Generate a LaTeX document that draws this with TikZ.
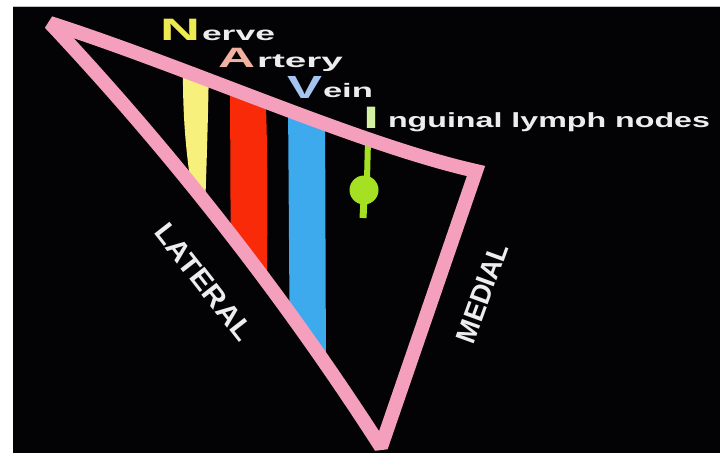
\documentclass[tikz,border=0pt]{standalone}
\usepackage{fontspec}
\setmainfont{Liberation Sans}
\usepackage{graphicx}
\definecolor{bgblack}{HTML}{030205}
\definecolor{bandpink}{HTML}{F4A0BC}
\definecolor{nervecol}{HTML}{F8F07C}
\definecolor{arterycol}{HTML}{F82A08}
\definecolor{veincol}{HTML}{3EAAEE}
\definecolor{lymphcol}{HTML}{A6E022}
\definecolor{Ncol}{HTML}{EEEA52}
\definecolor{Acol}{HTML}{F2B2A2}
\definecolor{Vcol}{HTML}{A6C4F0}
\definecolor{Icol}{HTML}{D4F0A4}
\definecolor{txtcol}{HTML}{EDEDED}
\newcommand\stretchtxt[3]{\resizebox{#1pt}{\height}{\fontsize{#2}{#2}\selectfont\bfseries #3}}
\tikzset{
  band/.style={draw=bandpink, line width=14pt, line join=miter, miter limit=1.8},
  lbl/.style={anchor=base west, inner sep=0pt, outer sep=0pt},
  sidelbl/.style={inner sep=0pt, text=txtcol}
}
\begin{document}
\begin{tikzpicture}[x=1pt,y=-1pt]
\useasboundingbox (0,0) rectangle (720,453);
\fill[white] (0,0) rectangle (720,453);
\fill[bgblack] (13,6) rectangle (720,453);
\draw[gray!50, line width=0.8pt] (13,6.4) -- (720,6.4);
\def\tripath{(50,23) .. controls (190,68) and (360,145) .. (476,171) -- (381,447) .. controls (284,296) and (173,154) .. cycle}
\begin{scope}
  \clip \tripath;
  % nerve
  \fill[nervecol] (183,60) -- (209,60) .. controls (208,130) and (206,180) .. (204,240) -- (200,240) .. controls (190,180) and (182,140) .. (183,60) -- cycle;
  % artery
  \fill[arterycol] (230,80) -- (265,80) .. controls (268,150) and (268,220) .. (266,320) -- (231,320) -- cycle;
  % vein
  \fill[veincol] (288,100) -- (325,100) -- (326,380) -- (290,380) -- cycle;
  % lymph node
  \draw[lymphcol, line width=6pt] (368,140) -- (367,180);
  \fill[lymphcol] (364,190) circle (14.5);
  \draw[lymphcol, line width=7pt] (364,200) -- (363,218);
\end{scope}
\draw[band] \tripath;
% acronym text
\node[lbl, text=Ncol] (N) at (160,40) {\stretchtxt{40}{31}{N}};
\node[lbl, text=txtcol] (erve) at (202,40) {\stretchtxt{73}{19.5}{erve}};
\node[lbl, text=Acol] (A) at (218,67) {\stretchtxt{37}{28}{A}};
\node[lbl, text=txtcol] (rtery) at (257,67) {\stretchtxt{86}{19.5}{rtery}};
\node[lbl, text=Vcol] (V) at (287,98) {\stretchtxt{35}{32}{V}};
\node[lbl, text=txtcol] (ein) at (323,97) {\stretchtxt{50}{19.5}{ein}};
\node[lbl, text=Icol] (I) at (363,128) {\stretchtxt{16}{31}{I}};
\node[lbl, text=txtcol] (ingu) at (388,127) {\stretchtxt{322}{20.5}{nguinal lymph nodes}};
% side labels
\node[sidelbl, rotate=-52] (lateral) at (204,282) {\stretchtxt{140}{28}{LATERAL}};
\node[sidelbl, rotate=70] (medial) at (482,293) {\stretchtxt{104}{28}{MEDIAL}};
\end{tikzpicture}
\end{document}
